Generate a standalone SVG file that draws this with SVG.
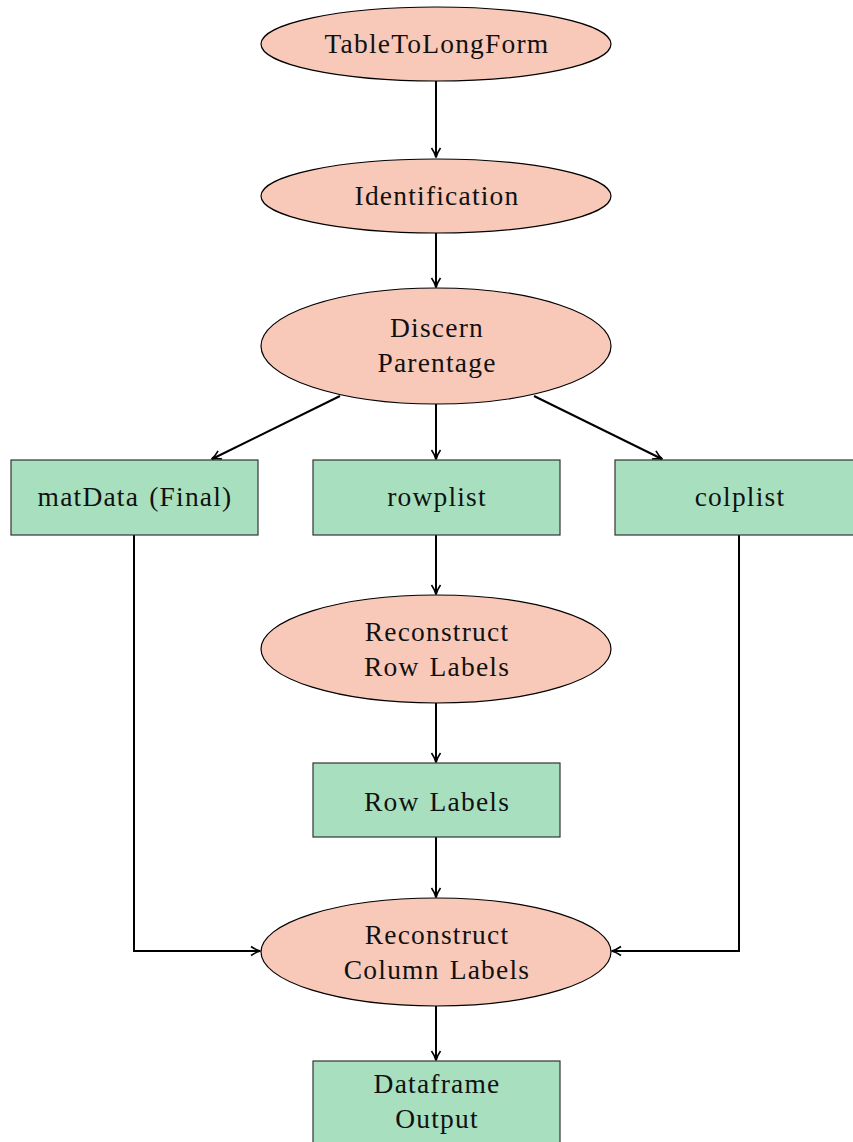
<svg xmlns="http://www.w3.org/2000/svg" width="853" height="1142" viewBox="0 0 853 1142">
<defs>
<style>
.e{fill:#f8c9b9;stroke:#000;stroke-width:1.2}
.b{fill:#a8e0bf;stroke:#333;stroke-width:1.2}
.t{font-family:"Liberation Serif","DejaVu Serif",serif;font-size:27.5px;letter-spacing:1.2px;word-spacing:2px;fill:#111;text-anchor:middle}
.c{fill:none;stroke:#000;stroke-width:2}
</style>
<marker id="a" viewBox="0 0 12 12" refX="10" refY="6" markerWidth="12" markerHeight="12" markerUnits="userSpaceOnUse" orient="auto">
<path d="M1,1.5 Q6,5 10.5,6 Q6,7 1,10.5" fill="none" stroke="#000" stroke-width="1.6"/>
</marker>
</defs>
<rect width="853" height="1142" fill="#fff"/>
<g id="connectors">
<path class="c" marker-end="url(#a)" d="M436,81 V157"/>
<path class="c" marker-end="url(#a)" d="M436,233 V287"/>
<path class="c" marker-end="url(#a)" d="M340,396 L212,459"/>
<path class="c" marker-end="url(#a)" d="M436,404 V459"/>
<path class="c" marker-end="url(#a)" d="M534,396 L662,459"/>
<path class="c" marker-end="url(#a)" d="M436,535 V594"/>
<path class="c" marker-end="url(#a)" d="M436,703 V762"/>
<path class="c" marker-end="url(#a)" d="M436,837 V897"/>
<path class="c" marker-end="url(#a)" d="M134,535 V951 H260"/>
<path class="c" marker-end="url(#a)" d="M739,535 V951 H612"/>
<path class="c" marker-end="url(#a)" d="M436,1006 V1060"/>
</g>
<g id="n1"><ellipse class="e" cx="436" cy="44" rx="175" ry="37"/><text class="t" x="437" y="53">TableToLongForm</text></g>
<g id="n2"><ellipse class="e" cx="436" cy="196" rx="175" ry="37"/><text class="t" x="437" y="205">Identification</text></g>
<g id="n3"><ellipse class="e" cx="436" cy="346" rx="175" ry="58"/><text class="t" x="437" y="337">Discern</text><text class="t" x="437" y="372">Parentage</text></g>
<g id="n4"><rect class="b" x="11" y="460" width="247" height="75"/><text class="t" x="135" y="506">matData (Final)</text></g>
<g id="n5"><rect class="b" x="313" y="460" width="247" height="75"/><text class="t" x="437" y="506">rowplist</text></g>
<g id="n6"><rect class="b" x="615" y="460" width="247" height="75"/><text class="t" x="740" y="506">colplist</text></g>
<g id="n7"><ellipse class="e" cx="436" cy="649" rx="175" ry="54"/><text class="t" x="437" y="641">Reconstruct</text><text class="t" x="437" y="676">Row Labels</text></g>
<g id="n8"><rect class="b" x="313" y="763" width="247" height="74"/><text class="t" x="437" y="811">Row Labels</text></g>
<g id="n9"><ellipse class="e" cx="436" cy="952" rx="175" ry="54"/><text class="t" x="437" y="944">Reconstruct</text><text class="t" x="437" y="979">Column Labels</text></g>
<g id="n10"><rect class="b" x="313" y="1061" width="247" height="95"/><text class="t" x="437" y="1093">Dataframe</text><text class="t" x="437" y="1128">Output</text></g>
</svg>
